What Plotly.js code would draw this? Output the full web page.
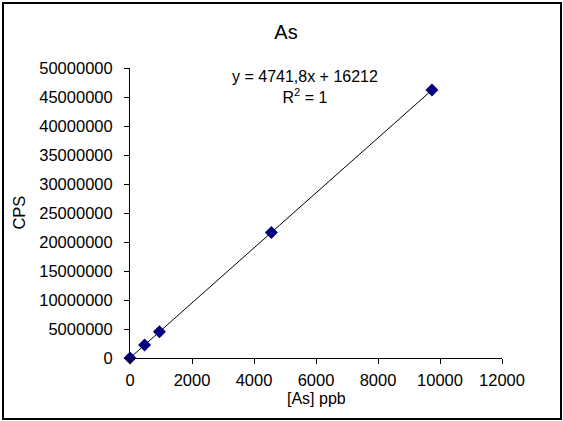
<!DOCTYPE html>
<html>
<head>
<meta charset="utf-8">
<script src="https://cdn.plot.ly/plotly-3.0.1.min.js"></script>
<style>
  html, body { margin: 0; padding: 0; background: #fff; }
  #wrap { position: relative; width: 563px; height: 421px; }
  #chart { width: 563px; height: 421px; }
  #frame { position: absolute; left: 2px; top: 2px; width: 556px; height: 414px;
           border: 2px solid #000; pointer-events: none; }
</style>
</head>
<body>
<div id="wrap"><div id="chart"></div><div id="frame"></div></div>
<script>
// Data
const concPpb = [0, 470, 950, 4560, 9740];
const cps = [0, 2250000, 4520000, 21640000, 46200000];
// Linear fit shown on the chart
const slope = 4741.8;
const intercept = 16212;
const eqText = "y = 4741,8x + 16212";
const r2Text = "R<sup>2</sup> = 1";
const xTitle = "[As] ppb";
const yTitle = "CPS";
const xTicks = [0, 2000, 4000, 6000, 8000, 10000, 12000];
const yTicks = [0, 5000000, 10000000, 15000000, 20000000, 25000000, 30000000, 35000000, 40000000, 45000000, 50000000];

const xMin = Math.min(...concPpb), xMax = Math.max(...concPpb);
const fitX = [xMin, xMax];
const fitY = fitX.map(x => slope * x + intercept);

const font = "Liberation Sans, Arial, sans-serif";

const traces = [
  { x: fitX, y: fitY, mode: "lines", line: { color: "#000", width: 1 }, hoverinfo: "skip", showlegend: false },
  { x: concPpb, y: cps, mode: "markers", marker: { symbol: "diamond", color: "#000080", size: 10 }, showlegend: false, cliponaxis: false }
];

const layout = {
  width: 563, height: 421,
  margin: { l: 129.5, r: 61.3, t: 68.3, b: 63 },
  paper_bgcolor: "#fff", plot_bgcolor: "#fff",
  font: { family: font, size: 16, color: "#000" },
  title: { text: "As", font: { family: font, size: 20, color: "#000" }, x: 0.508, xanchor: "center", y: 0.925, yanchor: "middle", xref: "container" },
  xaxis: {
    range: [0, 12000], tickvals: xTicks, ticktext: xTicks.map(String),
    showgrid: false, zeroline: false, showline: true, linecolor: "#000", linewidth: 1,
    ticks: "outside", ticklen: 5, tickcolor: "#000", tickfont: { size: 16.5 }, ticklabelstandoff: 2
  },
  yaxis: {
    range: [0, 50000000], tickvals: yTicks, ticktext: yTicks.map(String),
    showgrid: false, zeroline: false, showline: true, linecolor: "#000", linewidth: 1,
    ticks: "outside", ticklen: 5, tickcolor: "#000", tickfont: { size: 16.5 }, ticklabelstandoff: 8
  },
  annotations: [
    { text: eqText + "<br>" + r2Text, xref: "paper", yref: "paper", x: 0.4715, y: 1.008, xanchor: "center", yanchor: "top",
      showarrow: false, align: "center", font: { size: 16 } },
    { text: xTitle, xref: "paper", yref: "paper", x: 0.5, y: -0.14, xanchor: "center", yanchor: "middle",
      showarrow: false, font: { size: 16 } },
    { text: yTitle, xref: "paper", yref: "paper", x: -0.2996, y: 0.5, xanchor: "center", yanchor: "middle", textangle: -90,
      showarrow: false, font: { size: 16.5 } }
  ]
};

Plotly.newPlot("chart", traces, layout, { staticPlot: true, displayModeBar: false });
</script>
</body>
</html>
